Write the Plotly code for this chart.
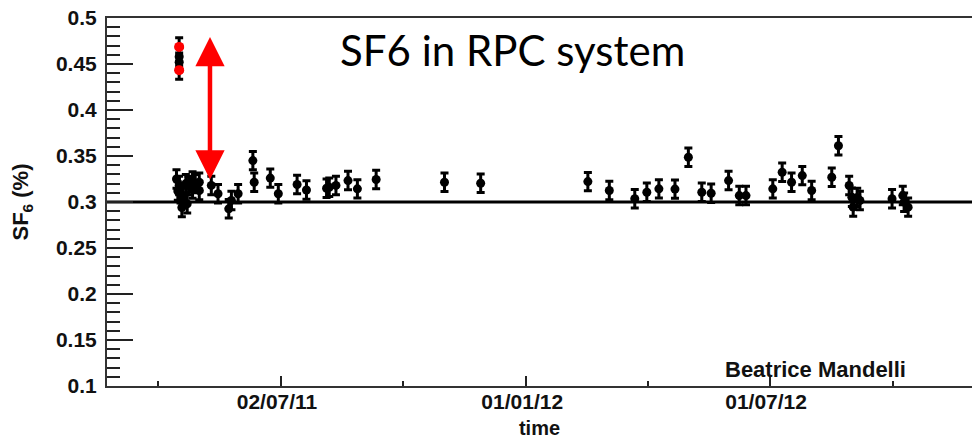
import plotly.graph_objects as go

# ---------------- data ----------------
black_dates = [
    "2011-04-17", "2011-04-17",
    "2011-04-15", "2011-04-17", "2011-04-18", "2011-04-19", "2011-04-16", "2011-04-20",
    "2011-04-22", "2011-04-23", "2011-04-24", "2011-04-27", "2011-04-27", "2011-04-29",
    "2011-05-02", "2011-05-02", "2011-05-11", "2011-05-16", "2011-05-24", "2011-05-26",
    "2011-05-31", "2011-06-11", "2011-06-12", "2011-06-24", "2011-06-30", "2011-07-14",
    "2011-07-21", "2011-08-05", "2011-08-07", "2011-08-12", "2011-08-21", "2011-08-28",
    "2011-09-11", "2011-11-01", "2011-11-28",
    "2012-02-16", "2012-03-03", "2012-03-22", "2012-03-31", "2012-04-09", "2012-04-21",
    "2012-05-01", "2012-05-11", "2012-05-18", "2012-05-31", "2012-06-08", "2012-06-13",
    "2012-07-03", "2012-07-10", "2012-07-17", "2012-07-25", "2012-08-01", "2012-08-16",
    "2012-08-21", "2012-08-29", "2012-08-31", "2012-09-01", "2012-09-04", "2012-09-06",
    "2012-09-30", "2012-10-08", "2012-10-09", "2012-10-12",
]
black_values = [
    0.458, 0.452,
    0.325, 0.318, 0.309, 0.294, 0.312, 0.305,
    0.320, 0.298, 0.318, 0.323, 0.314, 0.320,
    0.3215, 0.3125, 0.318, 0.309, 0.2926, 0.3016,
    0.309, 0.345, 0.3215, 0.326, 0.309, 0.319,
    0.313, 0.315, 0.316, 0.318, 0.3233, 0.3143,
    0.3244, 0.3215, 0.3204,
    0.3222, 0.3125, 0.3035, 0.3106, 0.3143, 0.314,
    0.3486, 0.3106, 0.3095, 0.3233, 0.307, 0.307,
    0.3143, 0.3323, 0.3215, 0.3287, 0.3125, 0.3269,
    0.3612, 0.3179, 0.3052, 0.2944, 0.305, 0.3016,
    0.3035, 0.307, 0.2998, 0.2944,
]
value_error = 0.01

red_dates = ["2011-04-17", "2011-04-17"]
red_values = [0.4686, 0.4433]

reference_level = 0.30

arrow_date = "2011-05-10"
arrow_low = 0.3245
arrow_high = 0.481

major_tick_dates = ["2011-07-02", "2012-01-01", "2012-07-01"]
major_tick_labels = ["02/07/11", "01/01/12", "01/07/12"]
minor_tick_dates = ["2011-04-01", "2011-10-01", "2012-04-01", "2012-10-01"]

x_range = ["2011-02-22 03:30", "2012-11-28 16:00"]
y_range = [0.1, 0.5]
y_tick_vals = [0.1, 0.15, 0.2, 0.25, 0.3, 0.35, 0.4, 0.45, 0.5]
y_tick_text = ["0.1", "0.15", "0.2", "0.25", "0.3", "0.35", "0.4", "0.45", "0.5"]

# ---------------- figure ----------------
fig = go.Figure()

err_style = dict(type="constant", value=value_error, color="black",
                 thickness=3, width=4)

fig.add_trace(go.Scatter(
    x=red_dates, y=red_values, mode="markers",
    marker=dict(color="black", size=9, symbol="circle"),
    error_y=err_style, showlegend=False, hoverinfo="skip",
))
fig.add_trace(go.Scatter(
    x=black_dates, y=black_values, mode="markers",
    marker=dict(color="black", size=9, symbol="circle"),
    error_y=err_style, showlegend=False, hoverinfo="x+y",
))
fig.add_trace(go.Scatter(
    x=red_dates, y=red_values, mode="markers",
    marker=dict(color="#ff0000", size=10, symbol="circle"),
    showlegend=False, hoverinfo="x+y",
))

# horizontal reference line at 0.3
fig.add_shape(type="line", xref="paper", x0=0, x1=1, yref="y",
              y0=reference_level, y1=reference_level,
              line=dict(color="black", width=3), layer="below")

# red double-headed arrow
fig.add_annotation(
    x=arrow_date, y=arrow_low, ax=arrow_date, ay=arrow_high,
    xref="x", yref="y", axref="x", ayref="y",
    text="", showarrow=True, arrowside="end+start",
    arrowhead=2, startarrowhead=2, arrowsize=1.3, startarrowsize=1.3,
    arrowwidth=4.5, arrowcolor="#ff0000", standoff=0, startstandoff=0,
)

# title text in the plot
fig.add_annotation(
    x=0.469, y=0.913, xref="paper", yref="paper",
    text="SF6 in RPC system", showarrow=False,
    font=dict(family="Lato", size=42, color="black"),
    xanchor="center", yanchor="middle",
)

# author label
fig.add_annotation(
    x=0.8185, y=0.045, xref="paper", yref="paper",
    text="<b>Beatrice Mandelli</b>", showarrow=False,
    font=dict(family="Liberation Sans", size=22, color="#111"),
    xanchor="center", yanchor="middle",
)

axis_font = dict(family="Liberation Sans", size=21, color="#111", weight="bold")

fig.update_layout(
    width=972, height=439,
    margin=dict(l=107, r=0, t=18, b=53, autoexpand=False),
    paper_bgcolor="white", plot_bgcolor="white",
    xaxis=dict(
        type="date", range=x_range,
        tickmode="array", tickvals=major_tick_dates, ticktext=major_tick_labels,
        ticks="inside", ticklen=10, tickwidth=1.5, tickcolor="#222",
        minor=dict(tickmode="array", tickvals=minor_tick_dates, ticks="inside",
                   ticklen=5, tickwidth=1.5, tickcolor="#222", showgrid=False),
        tickfont=axis_font, showgrid=False, zeroline=False,
        showline=True, linecolor="#333", linewidth=2, mirror=True,
        ticklabelstandoff=-4, ticklabelshift=-4,
        title=dict(text="<b>time</b>",
                   font=dict(family="Liberation Sans", size=20, color="#111"),
                   standoff=10),
        automargin=False,
    ),
    yaxis=dict(
        range=y_range, tickmode="array", tickvals=y_tick_vals, ticktext=y_tick_text,
        ticks="inside", ticklen=26, tickwidth=1.5, tickcolor="#222",
        minor=dict(dtick=0.01, tick0=0.1, ticks="inside", ticklen=13,
                   tickwidth=1.5, tickcolor="#222", showgrid=False),
        tickfont=axis_font, showgrid=False, zeroline=False,
        showline=True, linecolor="#333", linewidth=2,
        ticklabelstandoff=4,
        title=dict(text="<b>SF<sub>6</sub> (%)</b>",
                   font=dict(family="Liberation Sans", size=22, color="#111"),
                   standoff=21),
        automargin=False,
    ),
)

fig.write_html("out.html")
